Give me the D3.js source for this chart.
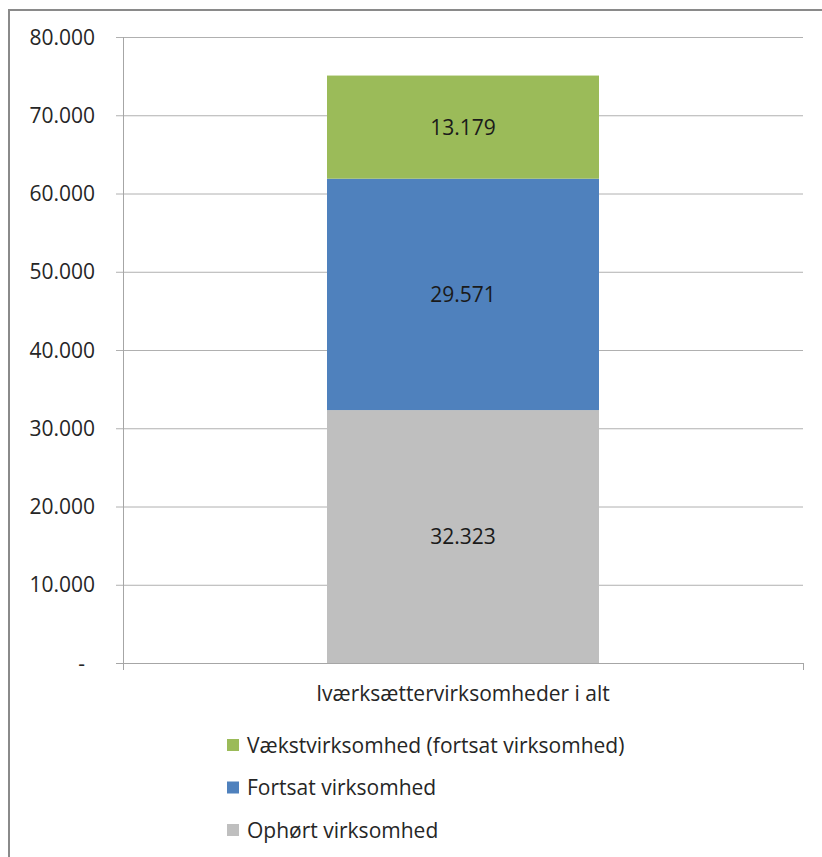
<!DOCTYPE html>
<html>
<head>
<meta charset="utf-8">
<script src="https://cdn.jsdelivr.net/npm/d3@7"></script>
<style>
  body { margin: 0; background: #fff; }
  text { font-family: "Open Sans", sans-serif; }
</style>
</head>
<body>
<script>
// data
const categories = ["Iværksættervirksomheder i alt"];
const seriesNames = ["Ophørt virksomhed", "Fortsat virksomhed", "Vækstvirksomhed (fortsat virksomhed)"];
const seriesColors = ["#bfbfbf", "#4f81bd", "#9bbb59"];
const ophoert = [32323];
const fortsat = [29571];
const vaekst = [13179];
const yTicks = [0, 10000, 20000, 30000, 40000, 50000, 60000, 70000, 80000];

(function() {
const W = 822, H = 857;
const plotLeft = 123, plotRight = 803, plotTop = 37, plotBottom = 663;
const fs = 21;

const svg = d3.select("body").append("svg")
    .attr("width", W).attr("height", H);

// outer frame
svg.append("rect")
    .attr("x", 9).attr("y", 10)
    .attr("width", 900).attr("height", 900)
    .attr("fill", "none")
    .attr("stroke", "#8a8a8a")
    .attr("stroke-width", 2);

const y = d3.scaleLinear().domain([0, 80000]).range([plotBottom, plotTop]);
const x = d3.scaleBand().domain(categories).range([plotLeft, plotRight])
    .paddingInner(0.6).paddingOuter(0.3);

const fmt = v => v === 0 ? "-" : d3.format(",")(v).replace(/,/g, ".");

// gridlines
svg.append("g").selectAll("line")
    .data(yTicks.filter(d => d > 0))
    .enter().append("line")
    .attr("x1", plotLeft - 7).attr("x2", plotRight)
    .attr("y1", d => y(d) + 0.5).attr("y2", d => y(d) + 0.5)
    .attr("stroke", "#b0b0b0");

// y axis labels
svg.append("g").selectAll("text")
    .data(yTicks)
    .enter().append("text")
    .attr("x", d => d === 0 ? 85 : 95)
    .attr("y", d => y(d))
    .attr("dy", "0.36em")
    .attr("text-anchor", "end")
    .attr("font-size", fs)
    .attr("fill", "#262626")
    .text(fmt);

// stacked bar
const stackData = categories.map((c, i) => ({
  cat: c, "Ophørt virksomhed": ophoert[i], "Fortsat virksomhed": fortsat[i],
  "Vækstvirksomhed (fortsat virksomhed)": vaekst[i]
}));
const stacked = d3.stack().keys(seriesNames)(stackData);

const layers = svg.append("g").selectAll("g")
    .data(stacked)
    .enter().append("g")
    .attr("fill", (d, i) => seriesColors[i]);

layers.selectAll("rect")
    .data(d => d)
    .enter().append("rect")
    .attr("x", d => x(d.data.cat))
    .attr("width", x.bandwidth())
    .attr("y", d => y(d[1]))
    .attr("height", d => y(d[0]) - y(d[1]));

layers.selectAll("text")
    .data(d => d)
    .enter().append("text")
    .attr("x", d => x(d.data.cat) + x.bandwidth() / 2)
    .attr("y", d => (y(d[0]) + y(d[1])) / 2)
    .attr("dy", "0.36em")
    .attr("text-anchor", "middle")
    .attr("font-size", fs)
    .attr("fill", "#1a1a1a")
    .text(d => fmt(d[1] - d[0]));

// axes lines
svg.append("line")
    .attr("x1", plotLeft + 0.5).attr("x2", plotLeft + 0.5)
    .attr("y1", plotTop).attr("y2", plotBottom + 7)
    .attr("stroke", "#a6a6a6");
svg.append("line")
    .attr("x1", plotLeft - 7).attr("x2", plotRight)
    .attr("y1", plotBottom + 0.5).attr("y2", plotBottom + 0.5)
    .attr("stroke", "#a6a6a6");
svg.append("line")
    .attr("x1", plotRight + 0.5).attr("x2", plotRight + 0.5)
    .attr("y1", plotBottom).attr("y2", plotBottom + 7)
    .attr("stroke", "#a6a6a6");

// category label
svg.append("g").selectAll("text")
    .data(categories)
    .enter().append("text")
    .attr("x", d => x(d) + x.bandwidth() / 2)
    .attr("y", 693)
    .attr("dy", "0.36em")
    .attr("text-anchor", "middle")
    .attr("font-size", fs)
    .attr("fill", "#262626")
    .text(d => d);

// legend (top-down: reverse order)
const legendItems = seriesNames.map((n, i) => ({ name: n, color: seriesColors[i] })).reverse();
const legend = svg.append("g").selectAll("g")
    .data(legendItems)
    .enter().append("g")
    .attr("transform", (d, i) => `translate(227,${745 + i * 42.5})`);
legend.append("rect")
    .attr("x", 0).attr("y", -6)
    .attr("width", 12).attr("height", 12)
    .attr("fill", d => d.color);
legend.append("text")
    .attr("x", 20).attr("y", 0)
    .attr("dy", "0.36em")
    .attr("font-size", fs)
    .attr("fill", "#262626")
    .text(d => d.name);
})();
</script>
</body>
</html>
